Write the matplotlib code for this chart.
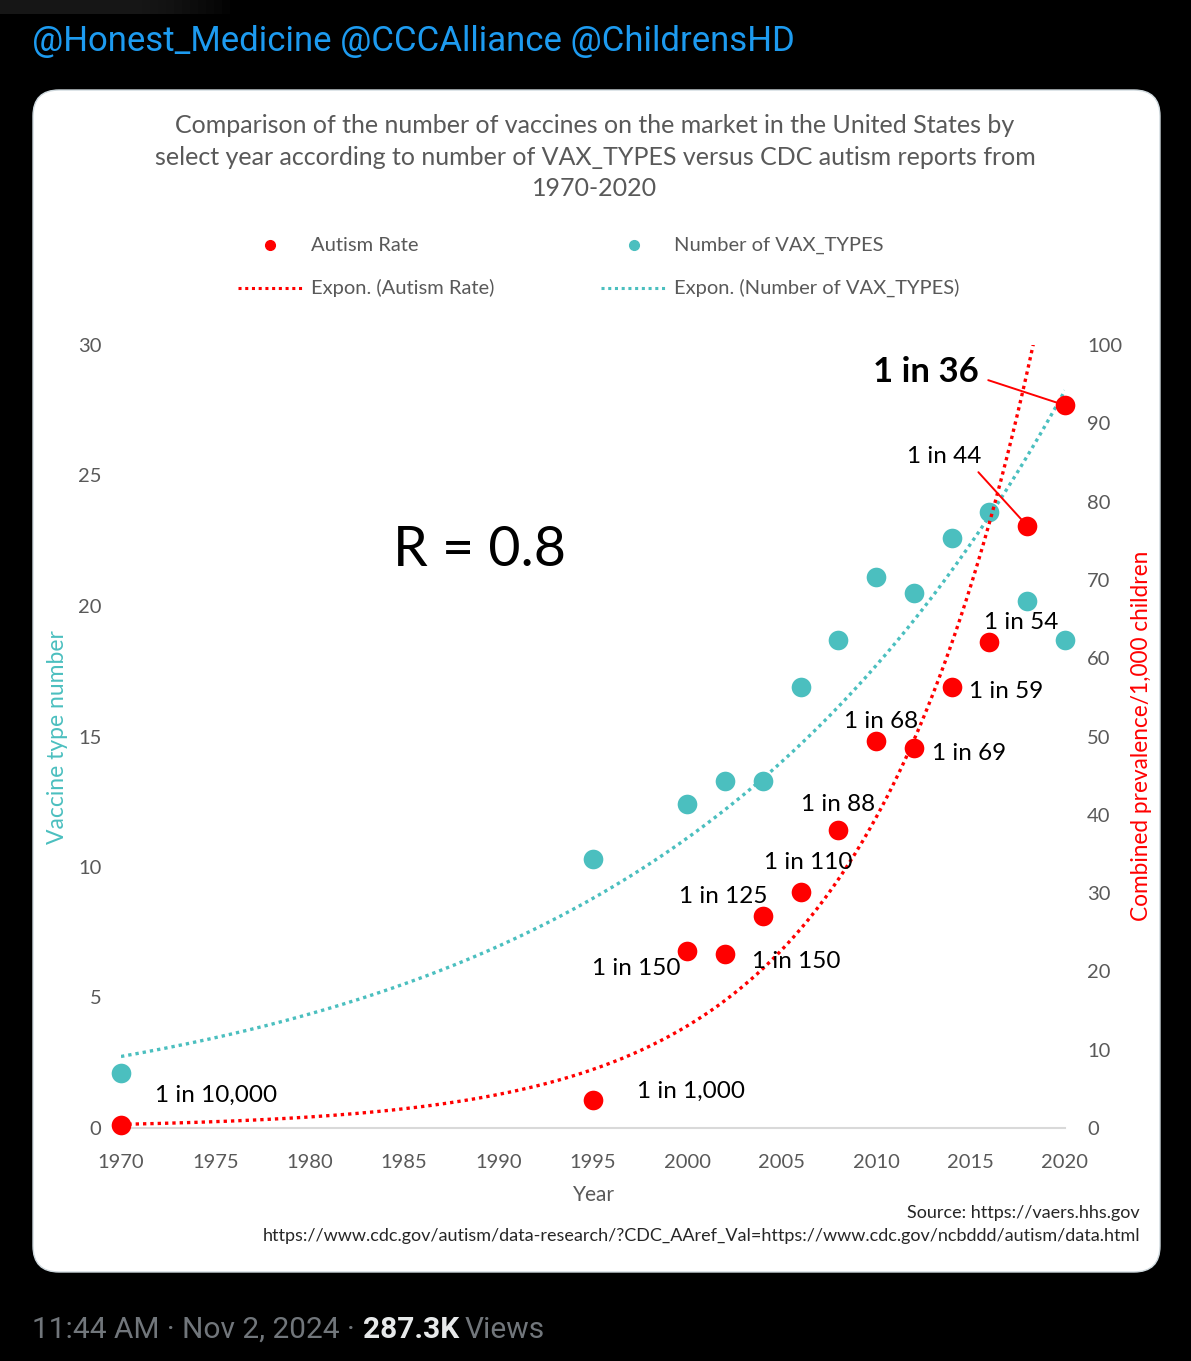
import numpy as np
import matplotlib
matplotlib.use("Agg")
import matplotlib.pyplot as plt
from matplotlib.patches import FancyBboxPatch, Rectangle

W, H = 1191, 1361

# data
years = [1970, 1995, 2000, 2002, 2004, 2006, 2008, 2010, 2012, 2014, 2016, 2018, 2020]
vax_types = [2.1, 10.3, 12.4, 13.3, 13.3, 16.9, 18.7, 21.1, 20.5, 22.6, 23.6, 20.2, 18.7]
autism_rate = [0.4, 3.6, 22.6, 22.2, 27.1, 30.1, 38.1, 49.4, 48.5, 56.3, 62.1, 76.9, 92.3]
rate_labels = ["1 in 10,000", "1 in 1,000", "1 in 150", "1 in 150", "1 in 125",
               "1 in 110", "1 in 88", "1 in 68", "1 in 69", "1 in 59", "1 in 54",
               "1 in 44", "1 in 36"]
x_ticks = list(range(1970, 2021, 5))
left_ticks = list(range(0, 31, 5))
right_ticks = list(range(0, 101, 10))

# where each rate label sits relative to its point (pixels, alignment)
label_pos = [(34, 30, "left"), (44, 8, "left"), (-7, -17, "right"), (27, -7, "left"),
             (5, 19, "right"), (8, 30, "center"), (0, 25, "center"), (5, 20, "center"),
             (18, -5, "left"), (17, -4, "left"), (32, 19, "center"), (-83, 69, "center"),
             (-139, 33, "center")]

RED = "#ff0000"
TEAL = "#4bbfbf"
GRAY = "#595959"
FONT = "Lato"

fig = plt.figure(figsize=(W / 100, H / 100), dpi=100, facecolor="black")

# background layer in pixel coordinates
bg = fig.add_axes([0, 0, 1, 1])
bg.set_xlim(0, W)
bg.set_ylim(H, 0)
bg.axis("off")
for k in range(12):
    bg.add_patch(Rectangle((0, 0), 230 - k * 8, 14, color="#2a2a2a", alpha=0.08, lw=0))
bg.add_patch(FancyBboxPatch((33, 90), 1127, 1182, boxstyle="round,pad=0,rounding_size=26",
                            facecolor="white", edgecolor="#cfd9de", lw=1))

bg.text(32, 41, "@Honest_Medicine @CCCAlliance @ChildrensHD", color="#1d9bf0",
        fontsize=25, family="Roboto", va="center", ha="left")

title = ("Comparison of the number of vaccines on the market in the United States by\n"
         "select year according to number of VAX_TYPES versus CDC autism reports from\n"
         "1970-2020")
bg.text(595, 157, title, color=GRAY, fontsize=18, family=FONT, ha="center", va="center",
        linespacing=1.45)

# legend
bg.plot([270], [245], "o", color=RED, ms=7)
bg.plot([634], [245], "o", color=TEAL, ms=7)
bg.plot([238, 302], [288, 288], color=RED, lw=2.2, ls=(0, (1, 1.2)))
bg.plot([601, 666], [288, 288], color=TEAL, lw=2.2, ls=(0, (1, 1.2)))
for x, y, s in [(311, 245, "Autism Rate"), (674, 245, "Number of VAX_TYPES"),
                (311, 288, "Expon. (Autism Rate)"), (674, 288, "Expon. (Number of VAX_TYPES)")]:
    bg.text(x, y, s, color=GRAY, fontsize=14.5, family=FONT, va="center", ha="left")

# axis titles and source
bg.text(58, 737, "Vaccine type number", color=TEAL, fontsize=16.5, family=FONT,
        rotation=90, ha="center", va="center")
bg.text(1141, 736, "Combined prevalence/1,000 children", color=RED, fontsize=16.3,
        family=FONT, rotation=90, ha="center", va="center")
bg.text(594, 1195, "Year", color=GRAY, fontsize=15, family=FONT, ha="center", va="center")
bg.text(1140, 1213, "Source: https://vaers.hhs.gov", color="#262626", fontsize=13,
        family=FONT, ha="right", va="center")
bg.text(1140, 1236, "https://www.cdc.gov/autism/data-research/?CDC_AAref_Val="
        "https://www.cdc.gov/ncbddd/autism/data.html", color="#262626", fontsize=13,
        family=FONT, ha="right", va="center")

# main chart
ax = fig.add_axes([121 / W, (H - 1128) / H, (1065 - 121) / W, (1128 - 345) / H])
ax.patch.set_alpha(0)
ax2 = ax.twinx()

ax.set_xlim(1970, 2020)
ax.set_ylim(0, 30)
ax2.set_ylim(0, 100)
for a in (ax, ax2):
    for sp in a.spines.values():
        sp.set_visible(False)
ax.spines["bottom"].set_visible(True)
ax.spines["bottom"].set_color("#d9d9d9")
ax.spines["bottom"].set_linewidth(1.5)

ax.set_xticks(x_ticks)
ax.set_yticks(left_ticks)
ax2.set_yticks(right_ticks)
ax.tick_params(axis="x", length=0, pad=19, labelsize=14.5, labelcolor=GRAY)
ax.tick_params(axis="y", length=0, pad=14, labelsize=14.5, labelcolor=GRAY)
ax2.tick_params(axis="y", length=0, pad=16, labelsize=14.5, labelcolor=GRAY)
for lab in ax.get_xticklabels() + ax.get_yticklabels() + ax2.get_yticklabels():
    lab.set_family(FONT)

# exponential trendlines (least squares on log values)
yr = np.array(years, dtype=float)
tt = np.linspace(1970, 2020, 500)
b1, a1 = np.polyfit(yr - 1970, np.log(vax_types), 1)
b2, a2 = np.polyfit(yr - 1970, np.log(autism_rate), 1)
ax.plot(tt, np.exp(a1 + b1 * (tt - 1970)), color=TEAL, lw=2.4, ls=(0, (1, 1.2)), zorder=2)
ax2.plot(tt, np.exp(a2 + b2 * (tt - 1970)), color=RED, lw=2.4, ls=(0, (1, 1.2)), zorder=2)

ax.scatter(years, vax_types, s=200, color=TEAL, lw=0, zorder=3, clip_on=False)
ax2.scatter(years, autism_rate, s=200, color=RED, lw=0, zorder=3, clip_on=False)

for i, (yv, rv, lab) in enumerate(zip(years, autism_rate, rate_labels)):
    dx, dy, ha = label_pos[i]
    if lab == "1 in 36":
        ax2.annotate(lab, (yv, rv), xytext=(dx, dy), textcoords="offset pixels",
                     ha=ha, va="center", fontsize=25, fontweight="bold", family=FONT,
                     color="black",
                     arrowprops=dict(arrowstyle="-", color=RED, lw=1.4, relpos=(1, 0.35),
                                     shrinkA=5, shrinkB=4))
    elif lab == "1 in 44":
        ax2.annotate(lab, (yv, rv), xytext=(dx, dy), textcoords="offset pixels",
                     ha=ha, va="center", fontsize=17.5, family=FONT, color="black",
                     arrowprops=dict(arrowstyle="-", color=RED, lw=1.4, relpos=(0.9, 0),
                                     shrinkA=2, shrinkB=6))
    else:
        ax2.annotate(lab, (yv, rv), xytext=(dx, dy), textcoords="offset pixels",
                     ha=ha, va="center", fontsize=17.5, family=FONT, color="black")

ax.text(0.38, 0.737, "R = 0.8", transform=ax.transAxes, fontsize=40, family=FONT,
        color="black", ha="center", va="center")

# tweet footer
r = fig.canvas.get_renderer()
t1 = bg.text(32, 1330, "11:44 AM \u00b7 Nov 2, 2024 \u00b7", color="#71767b", fontsize=21.5,
             family="Roboto", va="center", ha="left")
x1 = t1.get_window_extent(r).x1 + 8
t2 = bg.text(x1, 1330, "287.3K", color="#e7e9ea", fontsize=21.5, family="Roboto",
             fontweight="bold", va="center", ha="left")
x2 = t2.get_window_extent(r).x1 + 6
bg.text(x2, 1330, "Views", color="#71767b", fontsize=21.5, family="Roboto", va="center",
        ha="left")

fig.savefig("out.png", dpi=100, facecolor="black")
